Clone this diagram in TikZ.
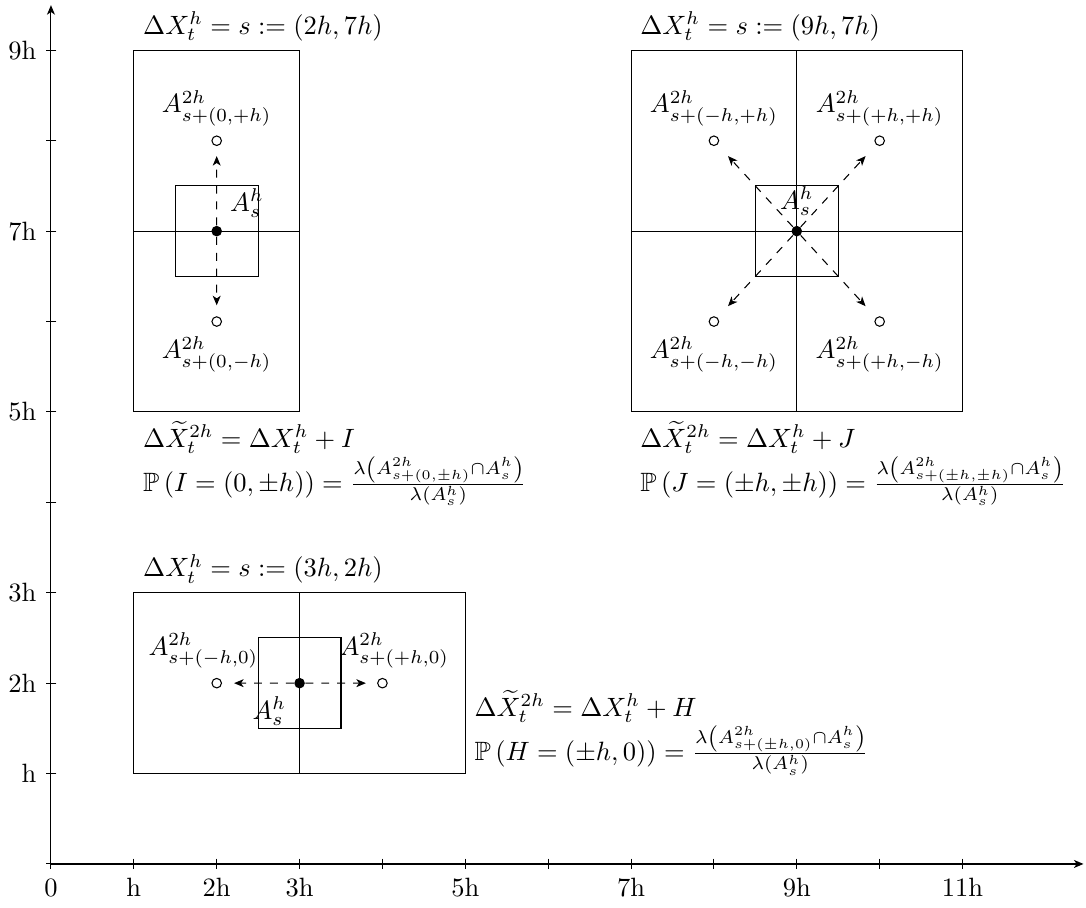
\documentclass[tikz,border=0pt]{standalone}
\usepackage{amsmath,amssymb}
\usetikzlibrary{calc,arrows.meta}
\begin{document}
\begin{tikzpicture}[x=1.1cm,y=1.2cm,
  dot/.style={circle,fill=black,inner sep=0pt,minimum size=4pt},
  hollow/.style={circle,draw,inner sep=0pt,minimum size=3.6pt},
  tip/.style={-{Stealth[length=3.6pt,width=3pt,inset=1pt]}},
  move/.style={dashed,tip},
  axisline/.style={tip},
  formula/.style={align=left},
  tick/.style={}]
\useasboundingbox (-0.615,-0.487) rectangle (12.49,9.557);
% axes
\draw[axisline,line width=0.6pt] (0,0) -- (12.46,0);
\draw[axisline] (0,0) -- (0,9.5);
\foreach \i in {0,...,11} \draw[tick] ([yshift=2pt]\i,0) -- ([yshift=-2pt]\i,0);
\foreach \j in {0,...,9} \draw[tick] ([xshift=2pt]0,\j) -- ([xshift=-2pt]0,\j);
\foreach \i/\l in {0/0,1/h,2/2h,3/3h,5/5h,7/7h,9/9h,11/11h}
  \node[below] (xl\i) at ([yshift=-2pt]\i,0) {\l};
\foreach \j/\l in {1/h,2/2h,3/3h,5/5h,7/7h,9/9h}
  \node[left] (yl\j) at ([xshift=-2pt]0,\j) {\l};
% ---------- box 1 ----------
\draw (1,5) rectangle (3,9);
\draw (1,7) -- (3,7);
\draw (1.5,6.5) rectangle (2.5,7.5);
\node[above right] (t1) at (1,9) {$\Delta X^h_t = s := (2h,7h)$};
\node[dot,label={above right:$A^h_s$}] (s1) at (2,7) {};
\node[hollow,label={above:$A^{2h}_{s+(0,+h)}$}] (u1) at (2,8) {};
\node[hollow,label={below:$A^{2h}_{s+(0,-h)}$}] (d1) at (2,6) {};
\draw[move] (s1) -- ($(s1.center)!0.83!(u1.center)$);
\draw[move] (s1) -- ($(s1.center)!0.82!(d1.center)$);
\node[below right,formula] (f1) at (1,5) {$\Delta\widetilde{X}^{2h}_t = \Delta X^h_t + I$\\
  $\mathbb{P}\left(I=(0,\pm h)\right) = \frac{\lambda\left(A^{2h}_{s+(0,\pm h)}\cap A^h_s\right)}{\lambda(A^h_s)}$};
% ---------- box 2 ----------
\draw (7,5) rectangle (11,9);
\draw (7,7) -- (11,7);
\draw (9,5) -- (9,9);
\draw (8.5,6.5) rectangle (9.5,7.5);
\node[above right] (t2) at (7,9) {$\Delta X^h_t = s := (9h,7h)$};
\node[dot,label={above:$A^h_s$}] (s2) at (9,7) {};
\node[hollow,label={above:$A^{2h}_{s+(-h,+h)}$}] (ul2) at (8,8) {};
\node[hollow,label={above:$A^{2h}_{s+(+h,+h)}$}] (ur2) at (10,8) {};
\node[hollow,label={below:$A^{2h}_{s+(-h,-h)}$}] (dl2) at (8,6) {};
\node[hollow,label={below:$A^{2h}_{s+(+h,-h)}$}] (dr2) at (10,6) {};
\draw[move] (s2) -- ($(s2.center)!0.83!(ul2.center)$);
\draw[move] (s2) -- ($(s2.center)!0.83!(ur2.center)$);
\draw[move] (s2) -- ($(s2.center)!0.83!(dl2.center)$);
\draw[move] (s2) -- ($(s2.center)!0.83!(dr2.center)$);
\node[below right,formula] (f2) at (7,5) {$\Delta\widetilde{X}^{2h}_t = \Delta X^h_t + J$\\
  $\mathbb{P}\left(J=(\pm h,\pm h)\right) = \frac{\lambda\left(A^{2h}_{s+(\pm h,\pm h)}\cap A^h_s\right)}{\lambda(A^h_s)}$};
% ---------- box 3 ----------
\draw (1,1) rectangle (5,3);
\draw (3,1) -- (3,3);
\draw (2.5,1.5) rectangle (3.5,2.5);
\node[above right] (t3) at (1,3) {$\Delta X^h_t = s := (3h,2h)$};
\node[dot,label={below left:$A^h_s$}] (s3) at (3,2) {};
\node[hollow,label={[xshift=-5pt]above:$A^{2h}_{s+(-h,0)}$}] (l3) at (2,2) {};
\node[hollow,label={[xshift=4.5pt]above:$A^{2h}_{s+(+h,0)}$}] (r3) at (4,2) {};
\draw[move] (s3) -- ($(s3.center)!0.79!(l3.center)$);
\draw[move] (s3) -- ($(s3.center)!0.80!(r3.center)$);
\node[right,formula] (f3) at (5,1.45) {$\Delta\widetilde{X}^{2h}_t = \Delta X^h_t + H$\\
  $\mathbb{P}\left(H=(\pm h,0)\right) = \frac{\lambda\left(A^{2h}_{s+(\pm h,0)}\cap A^h_s\right)}{\lambda(A^h_s)}$};
\end{tikzpicture}
\end{document}
